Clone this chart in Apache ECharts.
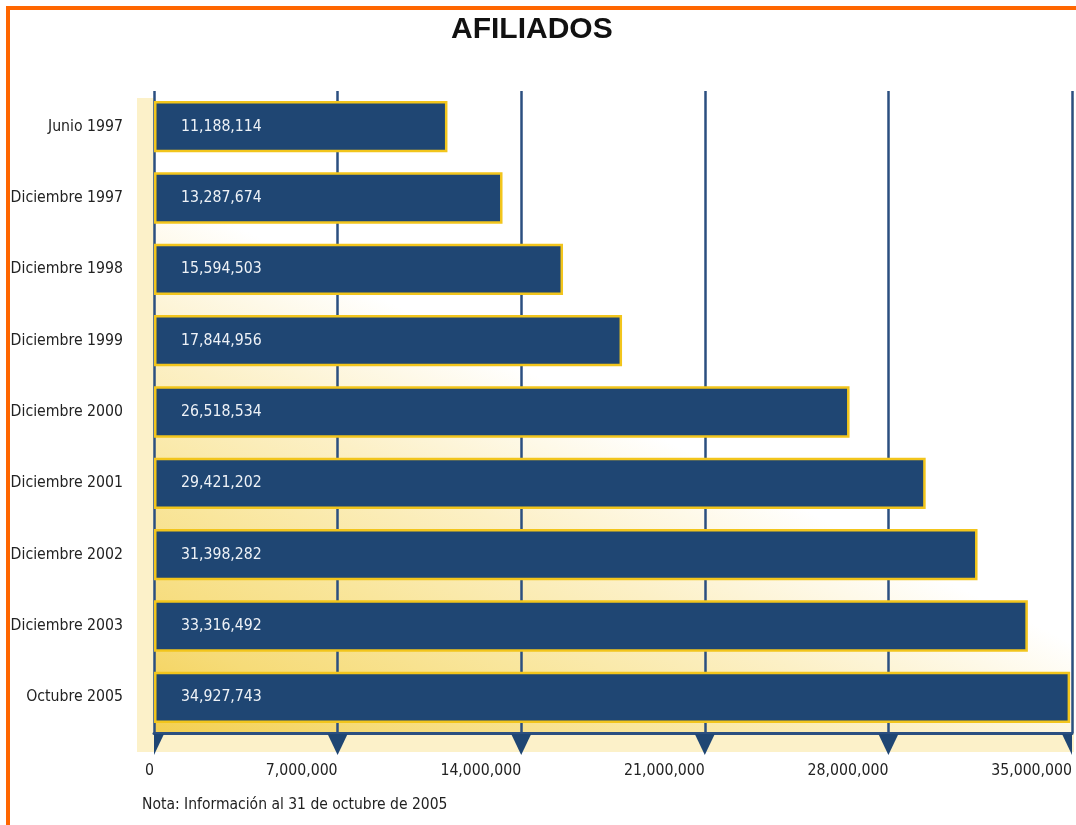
<!DOCTYPE html>
<html>
<head>
<meta charset="utf-8">
<script src="https://cdn.jsdelivr.net/npm/echarts@6/dist/echarts.min.js"></script>
<style>
  html, body { margin: 0; padding: 0; background: #ffffff; }
  #chart { position: absolute; left: 0; top: 0; width: 1076px; height: 825px; }
  #frame {
    position: absolute; left: 6px; top: 6px; right: 0; bottom: 0;
    border-top: 4px solid #ff6600; border-left: 4px solid #ff6600;
    pointer-events: none;
  }
</style>
</head>
<body>
<div id="chart"></div>
<div id="frame"></div>
<script>
// Periods (top to bottom) and number of affiliates in each
const categories = [
  'Junio 1997', 'Diciembre 1997', 'Diciembre 1998', 'Diciembre 1999',
  'Diciembre 2000', 'Diciembre 2001', 'Diciembre 2002', 'Diciembre 2003',
  'Octubre 2005'
];
const afiliados = [
  11188114, 13287674, 15594503, 17844956,
  26518534, 29421202, 31398282, 33316492, 34927743
];
// Value-axis ticks
const tickValues = [0, 7000000, 14000000, 21000000, 28000000, 35000000];

const FONT = '"DejaVu Sans Condensed", "Liberation Sans Narrow", sans-serif';
const NAVY = '#1f4673';
const GRID_LINE = '#2b4f80';

const fmt = v => Number(v).toLocaleString('en-US');

const chart = echarts.init(document.getElementById('chart'), null, { renderer: 'canvas' });

const GRID = { left: 154, right: 4, top: 91, bottom: 92 };
const gx = GRID.left, gy = GRID.top;
const gw = 1076 - GRID.left - GRID.right;
const gh = 825 - GRID.top - GRID.bottom;

// diagonal warm wash: saturated at the lower-left, fading to white up and to the right
const wash = new echarts.graphic.LinearGradient(gx, gy + gh, gx + 219, gy + gh - 439, [
  { offset: 0, color: '#f3cf50' },
  { offset: 0.2, color: '#f6db78' },
  { offset: 0.45, color: '#f9e69d' },
  { offset: 0.7, color: '#fcf0c6' },
  { offset: 0.88, color: '#fef9e8' },
  { offset: 1, color: '#ffffff' }
], true);

chart.setOption({
  animation: false,
  backgroundColor: 'transparent',
  title: {
    text: 'AFILIADOS',
    left: 446,
    top: 10,
    textStyle: { fontFamily: '"Liberation Sans", Arial, sans-serif', fontWeight: 'bold', fontSize: 30, color: '#111111' }
  },
  graphic: [
    // cream panel behind the plot
    { type: 'rect', z: -20, x: 0, y: 0, shape: { x: 137, y: 98, width: 937, height: 654 },
      style: { fill: '#fcf1c9' }, silent: true },
    { type: 'rect', z: -19, x: 0, y: 0, shape: { x: gx, y: gy, width: gw, height: gh },
      style: { fill: wash }, silent: true },
    {
      type: 'text', left: 142, top: 797, silent: true,
      style: { text: 'Nota: Información al 31 de octubre de 2005', font: '15.5px ' + FONT, fill: '#222222' }
    }
  ],
  grid: Object.assign({ outerBoundsMode: 'none', containLabel: false }, GRID),
  xAxis: {
    type: 'value',
    min: 0,
    max: 35000000,
    interval: 7000000,
    axisLine: { show: true, lineStyle: { color: GRID_LINE, width: 3 } },
    axisTick: { show: false },
    splitLine: { show: true, lineStyle: { color: GRID_LINE, width: 2.5 } },
    axisLabel: {
      formatter: v => fmt(v),
      align: 'right',
      margin: 30,
      fontFamily: FONT,
      fontSize: 15.7,
      color: '#222222',
      showMinLabel: true,
      showMaxLabel: true
    }
  },
  yAxis: {
    type: 'category',
    data: categories,
    inverse: true,
    axisLine: { show: false },
    axisTick: { show: false },
    splitLine: { show: false },
    axisLabel: { margin: 31, fontFamily: FONT, fontSize: 15.7, color: '#222222' }
  },
  series: [
    {
      type: 'bar',
      data: afiliados,
      barCategoryGap: '28%',
      itemStyle: { color: NAVY, borderColor: '#f2c51c', borderWidth: 2.5 },
      label: {
        show: true,
        position: 'insideLeft',
        distance: 27,
        formatter: p => fmt(p.value),
        fontFamily: FONT,
        fontSize: 15.7,
        color: '#eef2f7'
      },
      z: 3
    },
    {
      // downward triangle markers hanging under the value axis
      type: 'custom',
      silent: true,
      clip: false,
      z: 4,
      data: tickValues.map(v => [v, 0]),
      encode: { x: 0, y: 1 },
      renderItem: (params, api) => {
        const cs = params.coordSys;
        const cx = api.coord([api.value(0), 0])[0];
        const base = cs.y + cs.height + 1;
        const lo = cs.x, hi = cs.x + cs.width;
        const clamp = x => Math.max(lo, Math.min(hi, x));
        return {
          type: 'polygon',
          shape: { points: [[clamp(cx - 10), base], [clamp(cx + 10), base], [clamp(cx), base + 21]] },
          style: { fill: NAVY }
        };
      }
    }
  ]
});
</script>
</body>
</html>
